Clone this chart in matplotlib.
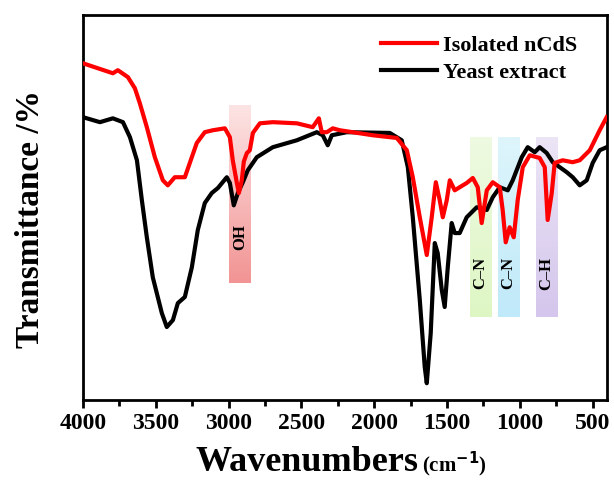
import numpy as np
import matplotlib
matplotlib.use("Agg")
import matplotlib.pyplot as plt
from matplotlib.ticker import MultipleLocator

plt.rcParams['font.family'] = ['Liberation Serif', 'DejaVu Serif']
plt.rcParams['font.weight'] = 'bold'

# isolated nCdS (red)
wn_cds = [4000, 3794, 3760, 3691, 3643, 3609, 3561, 3506, 3451, 3417, 3369, 3334, 3300,
          3266, 3218, 3163, 3108, 3025, 2991, 2971, 2943, 2929, 2909, 2895, 2874, 2854,
          2833, 2785, 2696, 2531, 2422, 2380, 2360, 2325, 2284, 2236, 2010, 1845, 1776,
          1735, 1687, 1639, 1605, 1577, 1550, 1529, 1502, 1481, 1447, 1413, 1365, 1323,
          1289, 1262, 1227, 1186, 1138, 1118, 1097, 1070, 1042, 1015, 980, 932, 864,
          829, 809, 781, 761, 706, 637, 589, 520, 452, 404]
t_cds = [87.5, 84.9, 85.7, 83.9, 81.0, 77.1, 70.9, 63.1, 57.1, 55.8, 57.9, 57.9, 57.9,
         61.6, 66.8, 69.6, 70.1, 70.6, 68.3, 62.3, 56.4, 53.8, 57.1, 62.0, 64.2, 64.9,
         69.4, 71.9, 72.2, 71.9, 70.9, 73.2, 69.6, 69.6, 70.6, 70.1, 68.8, 68.1, 64.9,
         57.9, 47.5, 37.7, 47.5, 56.6, 51.9, 47.5, 51.9, 57.1, 54.5, 55.3, 56.4, 57.7,
         55.3, 46.0, 54.5, 56.6, 55.3, 49.4, 41.0, 44.9, 42.3, 51.9, 60.5, 63.6, 62.9,
         60.5, 46.8, 53.8, 61.6, 62.3, 61.8, 62.3, 64.9, 70.1, 73.5]

# yeast extract (black)
wn_yeast = [4000, 3883, 3794, 3725, 3677, 3629, 3595, 3561, 3520, 3458, 3424, 3382, 3348,
            3300, 3252, 3211, 3163, 3115, 3073, 3012, 2991, 2964, 2936, 2902, 2868, 2806,
            2696, 2531, 2394, 2353, 2319, 2291, 2188, 1893, 1811, 1769, 1735, 1687, 1653,
            1639, 1612, 1584, 1564, 1536, 1516, 1495, 1468, 1447, 1413, 1365, 1296, 1227,
            1186, 1138, 1083, 1049, 987, 946, 898, 864, 816, 774, 726, 678, 637, 589,
            541, 500, 452, 404]
t_yeast = [73.5, 72.2, 73.2, 72.2, 68.3, 62.3, 51.9, 42.3, 31.9, 22.6, 19.0, 20.8, 25.2,
           26.8, 34.5, 44.2, 51.2, 53.8, 55.1, 57.9, 56.4, 50.6, 53.8, 56.6, 59.7, 63.1,
           65.7, 67.5, 69.6, 68.8, 66.2, 68.8, 69.6, 69.4, 67.5, 60.5, 47.5, 26.0, 8.6,
           4.4, 17.4, 40.8, 38.2, 28.6, 24.2, 34.5, 46.0, 43.4, 43.4, 47.5, 50.1, 49.4,
           52.7, 55.3, 54.5, 57.1, 63.1, 65.7, 64.4, 65.7, 64.2, 61.8, 60.5, 59.2, 57.9,
           55.8, 57.1, 61.6, 64.9, 65.7]

# highlighted bands: label, wn start, wn end, top, bottom, top colour, bottom colour
band_names = ['OH', 'C\u2013N', 'C\u2013N', 'C\u2013H']
band_lo = [2998, 1344, 1152, 891]
band_hi = [2847, 1193, 1001, 740]
band_top = [76.6, 68.3, 68.3, 68.3]
band_bot = [30.4, 21.6, 21.6, 21.6]
band_label_y = [42.3, 33.0, 33.0, 33.0]
band_c_top = [(253, 228, 228), (238, 250, 225), (222, 245, 252), (236, 229, 246)]
band_c_bot = [(242, 148, 148), (222, 246, 196), (192, 233, 249), (212, 198, 236)]

fig = plt.figure(figsize=(6.14, 4.88), dpi=100)
ax = fig.add_axes([0.135, 0.180, 0.854, 0.789])

for i in range(len(band_names)):
    c0 = np.array(band_c_top[i]) / 255.0
    c1 = np.array(band_c_bot[i]) / 255.0
    f = np.linspace(0, 1, 64)[:, None]
    grad = (c0 * (1 - f) + c1 * f)[:, None, :]
    ax.imshow(grad, extent=[band_lo[i], band_hi[i], band_bot[i], band_top[i]],
              aspect='auto', zorder=1, interpolation='bilinear')
    ax.text((band_lo[i] + band_hi[i]) / 2, band_label_y[i], band_names[i],
            rotation=90, ha='center', va='center', fontsize=12, fontweight='bold', zorder=4)

ax.plot(wn_cds, t_cds, color='#ff0000', lw=3, label='Isolated nCdS', zorder=3)
ax.plot(wn_yeast, t_yeast, color='black', lw=3, label='Yeast extract', zorder=2)

ax.set_xlim(4000, 400)
ax.set_ylim(0, 100)
ax.xaxis.set_major_locator(MultipleLocator(500))
ax.xaxis.set_minor_locator(MultipleLocator(250))
ax.set_yticks([])
ax.tick_params(axis='x', which='major', direction='out', length=6, width=2, labelsize=17, pad=3)
ax.tick_params(axis='x', which='minor', direction='out', length=4, width=2)
for s in ax.spines.values():
    s.set_linewidth(2)
for lab in ax.get_xticklabels():
    lab.set_fontweight('bold')

ax.text(-0.1, 0.47, 'Transmittance /%', transform=ax.transAxes, rotation=90,
        ha='center', va='center', fontsize=24, fontweight='bold')
ax.text(0.64, -0.185, 'Wavenumbers', transform=ax.transAxes, ha='right', va='baseline',
        fontsize=26, fontweight='bold')
ax.text(0.647, -0.185, '(cm$^{\\mathbf{-1}}$)', transform=ax.transAxes, ha='left', va='baseline',
        fontsize=15, fontweight='bold')

ax.legend(loc='upper right', frameon=False, prop={'size': 16, 'weight': 'bold'},
          handlelength=2.5, handletextpad=0.25, labelspacing=0.3,
          bbox_to_anchor=(0.98, 1.0))

fig.savefig('out.png', dpi=100)
